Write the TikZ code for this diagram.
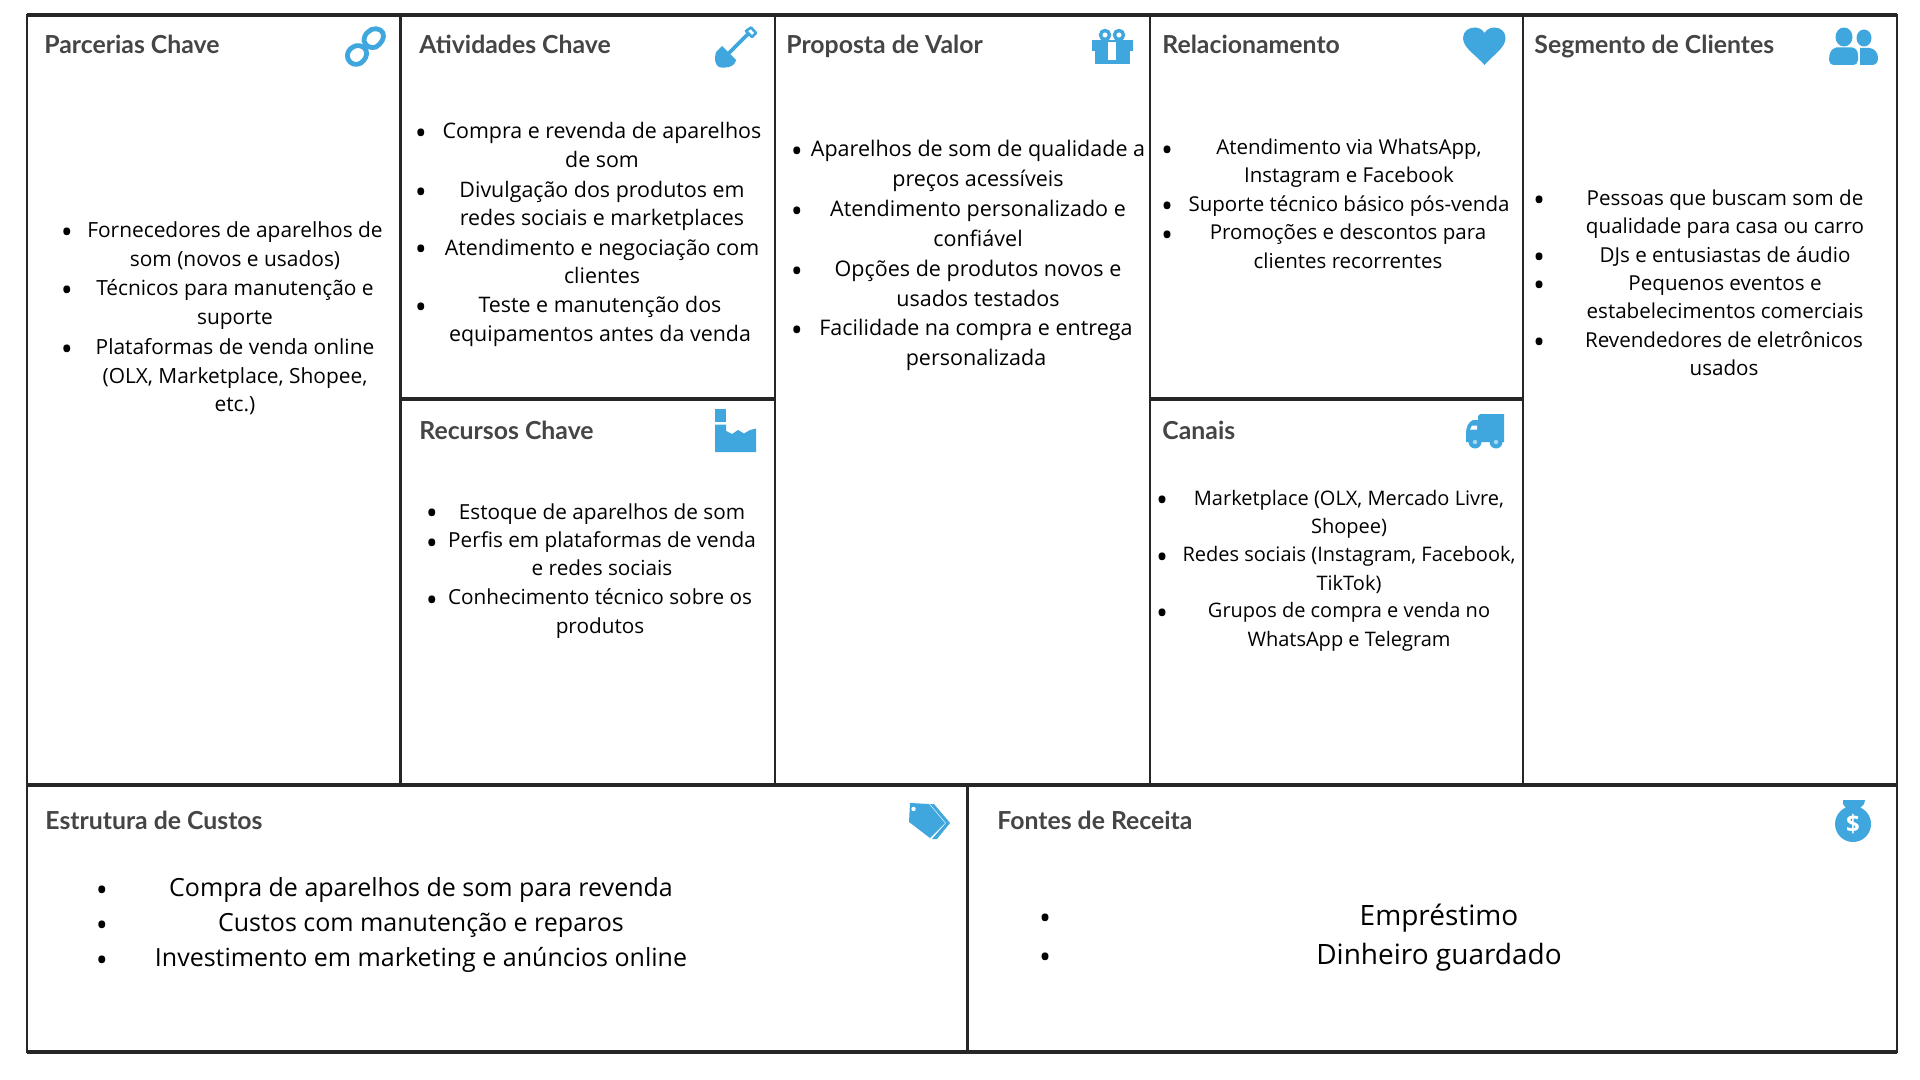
\documentclass[tikz,border=0pt]{standalone}
\usepackage{fontspec}
\setmainfont{Open Sans}
\newfontfamily\headfont{Lato}
\definecolor{iconblue}{HTML}{3FA7DE}
\definecolor{headgrey}{HTML}{454545}
\definecolor{framecol}{HTML}{262626}
\tikzset{
  hline/.style={draw=framecol,line width=2pt},
  vline/.style={draw=framecol,line width=1.3pt},
  head/.style={anchor=west,inner sep=0pt,text=headgrey,yshift=-1.7pt,font=\headfont\bfseries\fontsize{12.4}{14}\selectfont,execute at begin node=\strut},
  itm/.style 2 args={align=center,inner sep=0pt,text=black,yshift=-1.8pt,font=\fontsize{#1}{#2}\selectfont,execute at begin node=\strut,execute at end node=\strut},
  itmlarge/.style={align=center,inner sep=0pt,text=black,yshift=-1.2pt,font=\fontsize{12.5}{16}\selectfont,execute at begin node=\strut},
  itmhuge/.style={align=center,inner sep=0pt,text=black,yshift=-1.2pt,font=\fontsize{14}{18}\selectfont,execute at begin node=\strut},
  bul/.style={inner sep=0pt,text=black,yshift=-2.9pt,font=\fontsize{16}{18}\selectfont},
  iconline/.style={draw=iconblue,fill=none,line cap=round,line join=round},
}
\begin{document}
\begin{tikzpicture}[x=0.5pt,y=-0.5pt]
\useasboundingbox (0,0) rectangle (1920,1080);
\fill[white] (0,0) rectangle (1920,1080);
% frame
\draw[hline] (27,15) -- (1897,15);
\draw[hline] (27,785) -- (1897,785);
\draw[hline] (27,1052) -- (1897,1052);
\draw[hline] (400.5,399) -- (775,399);
\draw[hline] (1150,399) -- (1523,399);
\draw[vline] (27,14) -- (27,1053);
\draw[vline] (1897,14) -- (1897,1053);
\draw[vline] (400.5,15) -- (400.5,785);
\draw[vline] (775,15) -- (775,785);
\draw[vline] (1150,15) -- (1150,785);
\draw[vline] (1523,15) -- (1523,785);
\draw[vline] (967.5,785) -- (967.5,1052);
% headings
\node[head] (h1) at (44,45) {Parcerias Chave};
\node[head] (h2) at (419,45) {Atividades Chave};
\node[head] (h3) at (786,45) {Proposta de Valor};
\node[head] (h4) at (1162,45) {Relacionamento};
\node[head] (h5) at (1534,45) {Segmento de Clientes};
\node[head] (h6) at (419,430) {Recursos Chave};
\node[head] (h7) at (1162,430) {Canais};
\node[head] (h8) at (45,820) {Estrutura de Custos};
\node[head] (h9) at (997,820) {Fontes de Receita};
% Parcerias
\node[bul] (b11) at (67,230) {•};
\node[bul] (b12) at (67,288) {•};
\node[bul] (b13) at (67,346.5) {•};
\node[itm={10.45}{14.3}] (t11) at (235,245) {Fornecedores de aparelhos de\\som (novos e usados)};
\node[itm={10.45}{14.3}] (t12) at (235,302.5) {Técnicos para manutenção e\\suporte};
\node[itm={10.45}{14.3}] (t13) at (235,376) {Plataformas de venda online\\(OLX, Marketplace, Shopee,\\etc.)};
% Atividades
\node[bul] (b21) at (421,131) {•};
\node[bul] (b22) at (421,190) {•};
\node[bul] (b23) at (421,247) {•};
\node[bul] (b24) at (421,305) {•};
\node[itm={10.7}{14.4}] (t21) at (602,145.7) {Compra e revenda de aparelhos\\de som};
\node[itm={10.7}{14.4}] (t22) at (602,204) {Divulgação dos produtos em\\redes sociais e marketplaces};
\node[itm={10.7}{14.4}] (t23) at (602,262) {Atendimento e negociação com\\clientes};
\node[itm={10.7}{14.4}] (t24) at (600,319.6) {Teste e manutenção dos\\equipamentos antes da venda};
% Recursos
\node[bul] (b31) at (432,511) {•};
\node[bul] (b32) at (432,541) {•};
\node[bul] (b33) at (432,597.6) {•};
\node[itm={10.37}{14.05}] (t31) at (602,510) {Estoque de aparelhos de som};
\node[itm={10.37}{14.05}] (t32) at (602,554.1) {Perfis em plataformas de venda\\e redes sociais};
\node[itm={10.37}{14.05}] (t33) at (600,611.7) {Conhecimento técnico sobre os\\produtos};
% Proposta
\node[bul] (b41) at (797,149) {•};
\node[bul] (b42) at (797,209.4) {•};
\node[bul] (b43) at (797,269.4) {•};
\node[bul] (b44) at (797,328) {•};
\node[itm={10.75}{15}] (t41) at (978,164) {Aparelhos de som de qualidade a\\preços acessíveis};
\node[itm={10.75}{15}] (t42) at (978,224) {Atendimento personalizado e\\confiável};
\node[itm={10.75}{15}] (t43) at (978,284) {Opções de produtos novos e\\usados testados};
\node[itm={10.75}{15}] (t44) at (976,343.5) {Facilidade na compra e entrega\\personalizada};
% Relacionamento
\node[bul] (b51) at (1167,147.5) {•};
\node[bul] (b52) at (1167,204) {•};
\node[bul] (b53) at (1167,232.7) {•};
\node[itm={10.25}{14.05}] (t51) at (1349,161.6) {Atendimento via WhatsApp,\\Instagram e Facebook};
\node[itm={10.25}{14.05}] (t52) at (1349,202.5) {Suporte técnico básico pós-venda};
\node[itm={10.25}{14.05}] (t53) at (1348,246.8) {Promoções e descontos para\\clientes recorrentes};
% Canais
\node[bul] (b61) at (1162,498.4) {•};
\node[bul] (b62) at (1162,554.7) {•};
\node[bul] (b63) at (1162,611) {•};
\node[itm={10}{14.05}] (t61) at (1349,512.5) {Marketplace (OLX, Mercado Livre,\\Shopee)};
\node[itm={10}{14.05}] (t62) at (1349,569) {Redes sociais (Instagram, Facebook,\\TikTok)};
\node[itm={10}{14.05}] (t63) at (1349,625) {Grupos de compra e venda no\\WhatsApp e Telegram};
% Segmento
\node[bul] (b71) at (1539,198) {•};
\node[bul] (b72) at (1539,254.7) {•};
\node[bul] (b73) at (1539,283) {•};
\node[bul] (b74) at (1539,340.4) {•};
\node[itm={10.3}{14.05}] (t71) at (1725,212.4) {Pessoas que buscam som de\\qualidade para casa ou carro};
\node[itm={10.3}{14.05}] (t72) at (1725,253.2) {DJs e entusiastas de áudio};
\node[itm={10.3}{14.05}] (t73) at (1725,297.6) {Pequenos eventos e\\estabelecimentos comerciais};
\node[itm={10.3}{14.05}] (t74) at (1724,354.5) {Revendedores de eletrônicos\\usados};
% Custos
\node[bul] (b81) at (102,888) {•};
\node[bul] (b82) at (102,923) {•};
\node[bul] (b83) at (102,957.6) {•};
\node[itmlarge] (t81) at (421,888) {Compra de aparelhos de som para revenda};
\node[itmlarge] (t82) at (421,923) {Custos com manutenção e reparos};
\node[itmlarge] (t83) at (421,957.6) {Investimento em marketing e anúncios online};
% Receita
\node[bul] (b91) at (1045,916) {•};
\node[bul] (b92) at (1045,955) {•};
\node[itmhuge] (t91) at (1439,916) {Empréstimo};
\node[itmhuge] (t92) at (1439,955) {Dinheiro guardado};
% icon: link
\draw[iconline,line width=2.4pt] (368,32) .. controls (372,27) and (381,28) .. (383,33) .. controls (385,38) and (381,44) .. (376,47) .. controls (371,49) and (365,46) .. (364,41) .. controls (364,38) and (365,34) .. (368,32) -- cycle;
\draw[iconline,line width=2.4pt] (353,47) .. controls (357,44) and (364,46) .. (366,50) .. controls (368,55) and (365,60) .. (361,63) .. controls (356,66) and (350,64) .. (348,59) .. controls (346,54) and (349,49) .. (353,47) -- cycle;
% icon: shovel
\draw[iconline,line width=1.9pt] (725,57) -- (748,34);
\draw[iconline,line width=1.3pt] (746,31) -- (751,27.5) -- (756,33) -- (752,37) -- cycle;
\fill[iconblue] (722,46) -- (736,60) .. controls (735,67) and (725,69) .. (719,67) .. controls (715,65) and (714,59) .. (716,52) -- cycle;
% icon: gift
\draw[iconline,line width=1.7pt] (1105,35) circle[radius=4.5];
\draw[iconline,line width=1.7pt] (1119,35) circle[radius=4.5];
\fill[iconblue] (1092,40) rectangle (1133,51);
\fill[iconblue] (1095,51) rectangle (1130,64);
\fill[white] (1108,42) rectangle (1116,60);
% icon: heart
\fill[iconblue] (1484.5,65) .. controls (1476,55) and (1463,48) .. (1463,38) .. controls (1463,31) and (1469,27.5) .. (1475,27.5) .. controls (1479,27.5) and (1483,30) .. (1484.5,33) .. controls (1486,30) and (1490,27.5) .. (1494,27.5) .. controls (1500,27.5) and (1505.5,31) .. (1505.5,38) .. controls (1505.5,48) and (1493,55) .. (1484.5,65) -- cycle;
% icon: people
\fill[iconblue] (1864,38) ellipse[x radius=7.5,y radius=8.5];
\fill[iconblue] (1860,48) -- (1870,48) .. controls (1875,49) and (1878,53) .. (1878,58) .. controls (1878,62) and (1876,65) .. (1872,65) -- (1860,65) -- cycle;
\fill[iconblue] (1844,37) ellipse[x radius=8.5,y radius=9.5];
\fill[iconblue] (1836,47.5) -- (1852,47.5) .. controls (1856,48) and (1858,51) .. (1858,56) -- (1858,60) .. controls (1858,63) and (1856,65) .. (1852,65) -- (1835,65) .. controls (1831,65) and (1829,63) .. (1829,60) .. controls (1829,53) and (1831,49) .. (1836,47.5) -- cycle;
% icon: factory
\fill[iconblue] (715,409) rectangle (726,422);
\fill[iconblue] (715,424.5) -- (726,424.5) -- (726,431) -- (732,434) -- (738,430) -- (744,433.5) -- (750,430) -- (756,428.5) -- (756,452) -- (715,452) -- cycle;
% icon: truck
\fill[iconblue] (1480,414) -- (1504,414) -- (1504,442) -- (1478,442) -- (1478,416) -- cycle;
\fill[iconblue] (1478,420) -- (1473,420) .. controls (1468,422) and (1466,428) .. (1466,433) -- (1466,442) -- (1478,442) -- cycle;
\fill[iconblue] (1475,442) circle[radius=6.5];
\fill[iconblue] (1496,442) circle[radius=6.5];
\fill[white,opacity=0.55] (1475,442) circle[radius=2.2];
\fill[white,opacity=0.55] (1496,442) circle[radius=2.2];
\fill[white] (1470,429.5) -- (1472,425.5) -- (1477,425.5) -- (1477,429.5) -- cycle;
% icon: tag
\fill[iconblue] (934,804) -- (950,823) -- (937,839) -- (932,839) -- (946,823) -- (930,804) -- cycle;
\fill[iconblue] (910,803) -- (929,804) -- (945,823) -- (930,838) -- (909,822) -- cycle;
\fill[white] (913.5,809) circle[radius=2.2];
% icon: money bag
\fill[iconblue] (1853,824) circle[radius=18];
\fill[iconblue] (1843,800) -- (1865,800) -- (1864,804) -- (1860,808) -- (1862,812) -- (1844,812) -- (1846,808) -- (1843,804) -- cycle;
\node[inner sep=0pt,text=white,font=\fontsize{12}{14}\selectfont\bfseries] (bagsign) at (1853,824) {\$};
\end{tikzpicture}
\end{document}
